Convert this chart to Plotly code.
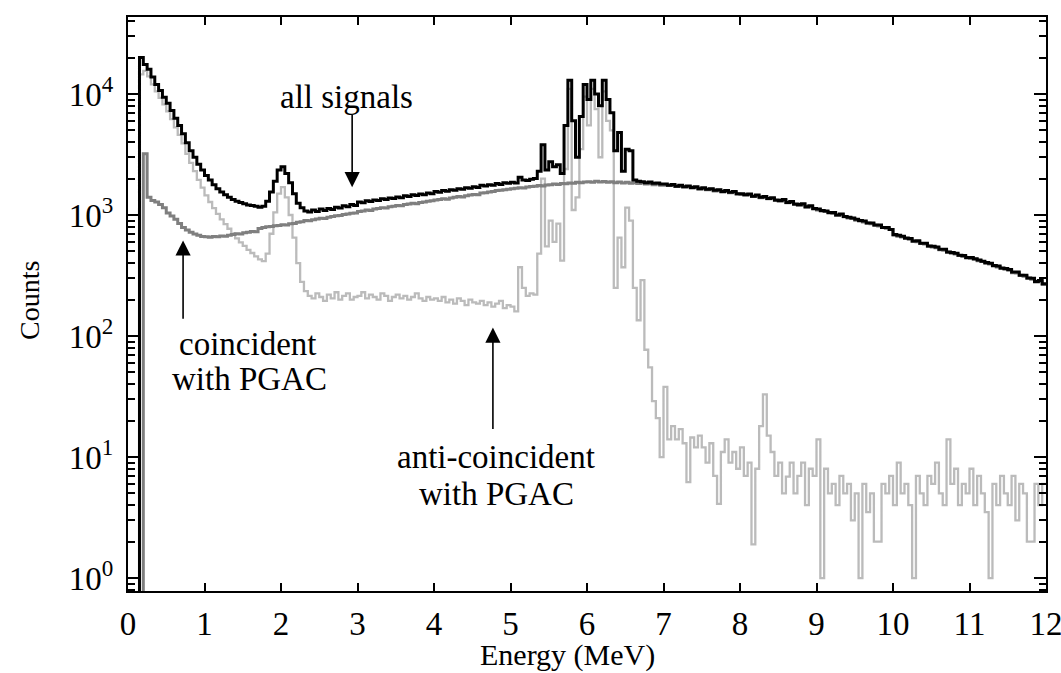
import math
import plotly.graph_objects as go

# ---------------- data ----------------
# step-histogram bins, 0.05 MeV wide, bin start energies 0.00 ... 12.00 MeV
bin_width = 0.05
energy = [round(i * bin_width, 2) for i in range(241)]

# all signals (black)
all_signals = [
    # 0.00 - 0.95
    0.5, 0.5, 0.5, 20000, 17500, 16000, 13800, 12000, 10700, 9400,
    8400, 7300, 6300, 5500, 4700, 3950, 3400, 3000, 2620, 2350,
    # 1.00 - 1.95
    2120, 1950, 1780, 1650, 1550, 1470, 1400, 1340, 1300, 1270,
    1240, 1210, 1200, 1180, 1160, 1180, 1300, 1550, 1900, 2350,
    # 2.00 - 2.95
    2500, 2200, 1850, 1500, 1250, 1150, 1080, 1060, 1100, 1070,
    1120, 1090, 1130, 1110, 1160, 1140, 1190, 1170, 1220, 1200,
    # 3.00 - 3.95
    1280, 1260, 1310, 1290, 1330, 1320, 1360, 1340, 1380, 1370,
    1410, 1390, 1440, 1420, 1470, 1450, 1490, 1470, 1520, 1500,
    # 4.00 - 4.95
    1560, 1540, 1590, 1570, 1620, 1600, 1650, 1630, 1680, 1660,
    1710, 1690, 1760, 1740, 1780, 1760, 1820, 1790, 1850, 1830,
    # 5.00 - 5.95
    1860, 1840, 2050, 1950, 1930, 1970, 2000, 2300, 3800, 2350,
    2750, 2500, 2600, 2200, 5500, 13000, 6000, 3000, 6500, 12000,
    # 6.00 - 6.95
    9000, 13000, 10000, 8000, 13000, 9000, 7000, 3400, 4800, 2300,
    3500, 3400, 1950, 1900, 1880, 1850, 1870, 1830, 1840, 1800,
    # 7.00 - 7.95
    1800, 1760, 1790, 1730, 1760, 1710, 1740, 1690, 1710, 1650,
    1680, 1630, 1650, 1600, 1620, 1560, 1590, 1540, 1560, 1500,
    # 8.00 - 8.95
    1500, 1470, 1490, 1430, 1460, 1400, 1420, 1370, 1390, 1330,
    1320, 1340, 1270, 1290, 1230, 1220, 1240, 1170, 1190, 1130,
    # 9.00 - 9.95
    1120, 1090, 1080, 1050, 1050, 1000, 1020, 970, 960, 945,
    920, 900, 890, 860, 860, 825, 825, 790, 790, 760,
    # 10.00 - 10.95
    690, 680, 668, 645, 640, 610, 612, 585, 585, 555,
    552, 545, 520, 520, 495, 490, 482, 465, 462, 445,
    # 11.00 - 11.95
    445, 435, 425, 415, 405, 400, 382, 378, 365, 362,
    355, 338, 338, 318, 318, 302, 300, 282, 288, 270,
    # 12.00
    270,
]

# coincident with PGAC (dark grey)
coincident = [
    # 0.00 - 0.95
    0.5, 0.5, 0.5, 0.5, 3200, 1400, 1320, 1280, 1220, 1150,
    1040, 980, 920, 850, 790, 750, 720, 695, 680, 665,
    # 1.00 - 1.95
    660, 655, 665, 660, 672, 668, 680, 690, 700, 695,
    712, 720, 730, 728, 775, 790, 800, 805, 815, 820,
    # 2.00 - 2.95
    830, 825, 845, 850, 870, 880, 900, 895, 915, 925,
    940, 935, 960, 970, 985, 990, 1010, 1020, 1035, 1040,
    # 3.00 - 3.95
    1070, 1080, 1100, 1090, 1120, 1130, 1150, 1140, 1170, 1180,
    1200, 1190, 1220, 1230, 1250, 1240, 1270, 1280, 1300, 1310,
    # 4.00 - 4.95
    1330, 1340, 1360, 1350, 1380, 1400, 1420, 1410, 1440, 1460,
    1480, 1470, 1520, 1530, 1550, 1560, 1590, 1600, 1620, 1630,
    # 5.00 - 5.95
    1650, 1660, 1680, 1670, 1700, 1720, 1730, 1750, 1740, 1770,
    1780, 1800, 1790, 1820, 1810, 1840, 1830, 1860, 1850, 1870,
    # 6.00 - 6.95
    1880, 1860, 1900, 1870, 1890, 1860, 1880, 1850, 1870, 1840,
    1860, 1830, 1850, 1820, 1840, 1800, 1820, 1780, 1800, 1760,
    # 7.00 - 7.95
    1770, 1750, 1760, 1720, 1730, 1700, 1720, 1670, 1690, 1640,
    1650, 1620, 1630, 1580, 1600, 1550, 1560, 1530, 1540, 1490,
    # 8.00 - 8.95
    1480, 1460, 1470, 1420, 1430, 1390, 1400, 1360, 1370, 1320,
    1300, 1310, 1260, 1270, 1220, 1200, 1210, 1160, 1170, 1120,
    # 9.00 - 9.95
    1100, 1080, 1070, 1040, 1030, 995, 1000, 965, 945, 935,
    905, 890, 875, 858, 848, 822, 812, 790, 778, 758,
    # 10.00 - 10.95
    680, 668, 658, 640, 630, 605, 602, 580, 576, 552,
    543, 537, 516, 512, 492, 482, 475, 462, 455, 442,
    # 11.00 - 11.95
    438, 430, 418, 412, 398, 393, 378, 372, 362, 356,
    349, 334, 332, 317, 312, 300, 295, 280, 283, 267,
    # 12.00
    265,
]

# anti-coincident with PGAC (light grey)
anti_coincident = [
    # 0.00 - 0.95
    0.5, 0.5, 0.5, 14500, 15500, 14000, 12000, 10500, 9300, 8200,
    7200, 6200, 5300, 4600, 3900, 3200, 2700, 2300, 1950, 1680,
    # 1.00 - 1.95
    1450, 1280, 1140, 1020, 920, 840, 770, 700, 640, 595,
    555, 515, 485, 455, 430, 415, 480, 700, 1050, 1500,
    # 2.00 - 2.95
    1700, 1400, 1000, 650, 400, 280, 235, 215, 205, 225,
    210, 195, 220, 205, 230, 200, 215, 225, 200, 210,
    # 3.00 - 3.95
    215, 230, 205, 220, 210, 200, 225, 215, 195, 210,
    220, 205, 215, 200, 210, 225, 205, 195, 210, 200,
    # 4.00 - 4.95
    205, 195, 210, 190, 200, 185, 205, 195, 180, 200,
    190, 185, 195, 180, 190, 175, 185, 195, 170, 180,
    # 5.00 - 5.95
    175, 160, 370, 250, 215, 225, 220, 480, 2000, 550,
    900, 600, 850, 420, 2400, 11000, 1100, 1400, 3500, 9500,
    # 6.00 - 6.95
    5500, 11000, 7500, 3000, 10500, 6000, 5000, 250, 650, 370,
    1150, 900, 250, 135, 290, 77, 55, 29, 21, 10,
    # 7.00 - 7.95
    38, 14, 18, 14, 17, 13, 6.2, 14.5, 12, 15,
    12, 9, 13, 7, 4.1, 11, 14, 9, 11, 8,
    # 8.00 - 8.95
    12, 7, 9, 1.9, 8, 18, 33, 15, 11, 7,
    9, 5, 6.9, 9, 5, 7, 9, 4, 8, 7,
    # 9.00 - 9.95
    14, 1.0, 8, 5, 6, 4, 7, 5, 6, 3,
    5, 1.0, 6, 3.5, 5, 2, 2, 6, 5, 7,
    # 10.00 - 10.95
    4, 9, 5, 6, 4, 1.0, 7, 5, 4, 7,
    6, 9, 5, 4, 14, 6, 8, 4, 6, 5,
    # 11.00 - 11.95
    8, 4, 7, 5, 3.5, 1.0, 6, 4, 7, 5,
    4, 7, 3, 6, 5, 2, 2, 6, 4, 6,
    # 12.00
    6,
]

x_ticks = list(range(0, 13))
y_major = [1, 10, 100, 1000, 10000]
y_major_text = ["10<sup>0</sup>", "10<sup>1</sup>", "10<sup>2</sup>",
                "10<sup>3</sup>", "10<sup>4</sup>"]
y_range_log = [-0.107, 4.636]
y_minor = [m * 10 ** k for k in range(-1, 5) for m in range(2, 10)
           if y_range_log[0] < math.log10(m * 10 ** k) < y_range_log[1]]

# ---------------- figure ----------------
FONT = "Liberation Serif, Times New Roman, serif"

fig = go.Figure()
fig.add_trace(go.Scatter(x=energy, y=anti_coincident, mode="lines",
                         line=dict(color="#bbbbbb", width=2.3, shape="hv"),
                         name="anti-coincident with PGAC"))
fig.add_trace(go.Scatter(x=energy, y=coincident, mode="lines",
                         line=dict(color="#7f7f7f", width=3, shape="hv"),
                         name="coincident with PGAC"))
fig.add_trace(go.Scatter(x=energy, y=all_signals, mode="lines",
                         line=dict(color="#000000", width=3, shape="hv"),
                         name="all signals"))

fig.update_layout(
    width=1061, height=673,
    margin=dict(l=128, r=15, t=17, b=82, autoexpand=False),
    paper_bgcolor="white", plot_bgcolor="white",
    showlegend=False,
    font=dict(family=FONT, size=33, color="black"),
)

fig.update_xaxes(
    range=[0, 12], tickmode="array", tickvals=x_ticks,
    ticks="inside", ticklen=8, tickwidth=2, tickcolor="black",
    showline=True, linewidth=2, linecolor="black", mirror="ticks",
    showgrid=False, zeroline=False,
    tickfont=dict(family=FONT, size=33, color="black"),
    ticklabelstandoff=2, ticklabeloverflow="allow",
)
fig.update_yaxes(
    type="log", range=y_range_log,
    tickmode="array", tickvals=y_major, ticktext=y_major_text,
    ticks="inside", ticklen=12, tickwidth=2, tickcolor="black",
    minor=dict(tickmode="array", tickvals=y_minor, ticks="inside",
               ticklen=7, tickwidth=2, tickcolor="black", showgrid=False),
    showline=True, linewidth=2, linecolor="black", mirror="ticks",
    showgrid=False, zeroline=False,
    tickfont=dict(family=FONT, size=33, color="black"),
    ticklabelstandoff=6, ticklabeloverflow="allow",
)

# axis titles
fig.add_annotation(text="Energy (MeV)", xref="paper", yref="paper",
                   x=0.479, y=-0.1115, showarrow=False,
                   xanchor="center", yanchor="middle",
                   font=dict(family=FONT, size=30, color="black"))
fig.add_annotation(text="Counts", xref="paper", yref="paper",
                   x=-0.1068, y=0.507, showarrow=False, textangle=-90,
                   xanchor="center", yanchor="middle",
                   font=dict(family=FONT, size=28, color="black"))

# arrows (head at x,y ; tail at ax,ay), log axis -> log10 coordinates
arrows = [
    (2.93, 3.23, 3.84),   # all signals
    (0.72, 2.79, 2.13),   # coincident
    (4.77, 2.07, 1.22),   # anti-coincident
]
for xe, yh, yt in arrows:
    fig.add_annotation(x=xe, y=yh, ax=xe, ay=yt, xref="x", yref="y",
                       axref="x", ayref="y", text="", showarrow=True,
                       arrowhead=2, arrowsize=1.9, arrowwidth=1.6,
                       arrowcolor="black", standoff=0, startstandoff=0)

labels = [
    ("all signals", 2.86, 3.975),
    ("coincident", 1.556, 1.934),
    ("with PGAC", 1.588, 1.645),
    ("anti-coincident", 4.81, 1.0),
    ("with PGAC", 4.82, 0.694),
]
for txt, xe, ly in labels:
    fig.add_annotation(text=txt, x=xe, y=ly, xref="x", yref="y",
                       showarrow=False, xanchor="center", yanchor="middle",
                       font=dict(family=FONT, size=33, color="black"))

# remove the default 8 px page margin so the figure fills the window exactly
fig.write_html(
    "out.html",
    config={"displayModeBar": False},
    post_script="document.body.style.margin='0';"
                "document.body.style.overflow='hidden';",
)
